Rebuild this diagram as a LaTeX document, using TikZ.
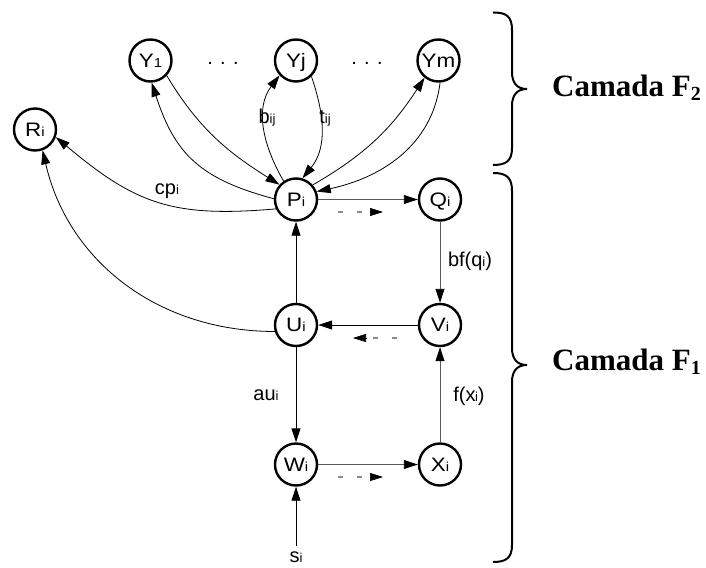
\documentclass[tikz,border=0pt]{standalone}
\usepackage{fontspec}
\setmainfont{Liberation Sans}
\newfontfamily\nodefont{Liberation Sans}[FakeStretch=1.15]
\newfontfamily\timesfont{Liberation Serif}
\usetikzlibrary{arrows.meta}
\newcommand\lo[1]{{\fontsize{13}{13}\selectfont #1}}
\newcommand\camada[1]{{\timesfont\bfseries\fontsize{31}{31}\selectfont Camada F\raisebox{-4pt}{\fontsize{20}{20}\selectfont #1}}}
\begin{document}
\begin{tikzpicture}[x=1pt,y=1pt,
  st/.style={circle, draw, line width=2.4pt, minimum size=42pt, inner sep=0pt,
    font=\nodefont\fontsize{19.5}{19.5}\selectfont, text height=13.9pt, text depth=0pt},
  arr/.style={-{Triangle[length=14pt,width=9pt,color=black]}, line width=0.9pt},
  carr/.style={arr, line width=0.8pt},
  garr/.style={arr, draw=black!65},
  lbl/.style={font=\fontsize{20}{20}\selectfont, inner sep=0pt, text height=14pt, text depth=0pt},
  dsh/.style={draw=black!45, line width=1.1pt, dash pattern=on 5pt off 14pt},
  dtip/.style={-{Triangle[length=13pt,width=8pt]}, line width=0.6pt},
  brc/.style={line width=2pt}
]
\useasboundingbox (0,0) rectangle (706,-567);

% nodes
\node[st] (Y1) at (150.5,-60.5) {Y\lo{1}};
\node[st] (Yj) at (296,-60.5) {Yj};
\node[st] (Ym) at (438.5,-60.5) {Ym};
\node[st] (Ri) at (35,-129.5) {R\lo{i}};
\node[st] (Pi) at (296,-199.5) {P\lo{i}};
\node[st] (Qi) at (440,-199.5) {Q\lo{i}};
\node[st] (Ui) at (296,-325) {U\lo{i}};
\node[st] (Vi) at (440,-325) {V\lo{i}};
\node[st] (Wi) at (296,-464.5) {W\lo{i}};
\node[st] (Xi) at (440,-464.5) {X\lo{i}};

% ellipses
\node[font=\fontsize{20}{20}\selectfont, anchor=base, inner sep=0pt] (dots1) at (223,-65) {. . .};
\node[font=\fontsize{20}{20}\selectfont, anchor=base, inner sep=0pt] (dots2) at (367,-65) {. . .};

% straight connectors
\draw[arr] (Ui) -- (Pi);
\draw[garr] (Pi) -- (Qi);
\draw[garr] (Qi) -- (Vi);
\draw[arr] (Vi) -- (Ui);
\draw[arr] (Ui) -- (Wi);
\draw[garr] (Wi) -- (Xi);
\draw[garr] (Xi) -- (Vi);
\coordinate (sitop) at (296,-546);
\draw[arr] (sitop) -- (Wi);
\node[font=\fontsize{20}{20}\selectfont, anchor=base, inner sep=0pt] (si) at (296,-562) {s\lo{i}};

% curved connectors
\draw[carr] (Pi.205) to[out=185,in=-40,looseness=1.15] (Ri.-20);
\draw[carr] (Ui.197) to[out=180,in=-77] (Ri.-70);
\draw[carr] (Pi.178) to[out=165,in=-72,looseness=1.15] (Y1.-87);
\draw[carr] (Y1.-43) to[out=-59,in=148] (Pi.138);
\draw[carr] (Pi.124) to[out=120,in=233] (Yj.222);
\draw[carr] (Yj.-46) to[out=-71,in=51] (Pi.73);
\draw[carr] (Pi.41) to[out=30,in=237] (Ym.231);
\draw[carr] (Ym.-86) to[out=-97,in=12] (Pi.21);

% labels
\node[lbl] (lcp) at (167,-187) {cp\lo{i}};
\node[lbl] (lb) at (267,-117) {b\lo{ij}};
\node[lbl] (lt) at (325,-117) {t\lo{ij}};
\node[lbl] (lbf) at (470,-259) {bf(q\lo{i})};
\node[lbl] (lfx) at (469,-394) {f(x\kern-0.5pt\lo{i})};
\node[lbl] (lau) at (266,-393) {au\lo{i}};

% dashed direction hints
\coordinate (a1) at (338,-212); \coordinate (a2) at (366,-212);
\coordinate (a3) at (370,-212); \coordinate (a4) at (383,-212);
\draw[dsh] (a1) -- (a2);
\draw[dtip] (a3) -- (a4);
\coordinate (b1) at (397,-338); \coordinate (b2) at (370,-338);
\coordinate (b3) at (366,-338); \coordinate (b4) at (353,-338);
\draw[dsh] (b1) -- (b2);
\draw[dtip] (b3) -- (b4);
\coordinate (c1) at (338,-477); \coordinate (c2) at (366,-477);
\coordinate (c3) at (370,-477); \coordinate (c4) at (383,-477);
\draw[dsh] (c1) -- (c2);
\draw[dtip] (c3) -- (c4);

% braces
\draw[brc] (493,-12.5) .. controls (506,-12.5) and (512,-16) .. (512,-30)
  -- (512,-72) .. controls (512,-83) and (517,-89) .. (527,-89)
  .. controls (517,-89) and (512,-95) .. (512,-106)
  -- (512,-148) .. controls (512,-161) and (506,-165) .. (493,-165);
\draw[brc] (493,-173) .. controls (506,-173) and (512,-177) .. (512,-191)
  -- (512,-348) .. controls (512,-359) and (517,-365) .. (527,-365)
  .. controls (517,-365) and (512,-371) .. (512,-382)
  -- (512,-545) .. controls (512,-558) and (506,-562) .. (493,-562);

\node[anchor=west, inner sep=0pt] (F2) at (552,-88) {\camada{2}};
\node[anchor=west, inner sep=0pt] (F1) at (552,-362) {\camada{1}};
\end{tikzpicture}
\end{document}
